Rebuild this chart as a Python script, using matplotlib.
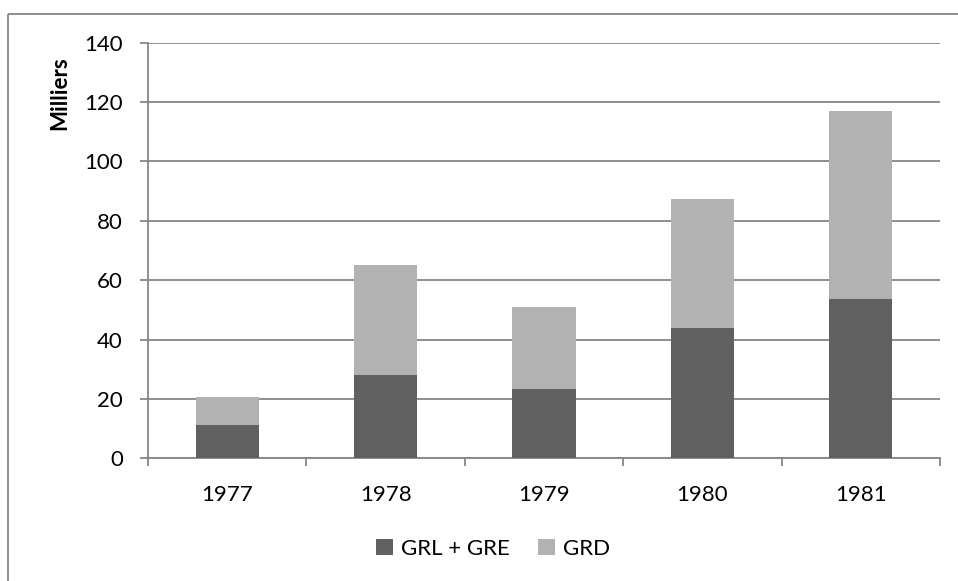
import matplotlib
matplotlib.use("Agg")
import matplotlib.pyplot as plt
from matplotlib.patches import Rectangle
import numpy as np

years = ["1977", "1978", "1979", "1980", "1981"]
grl_gre = [11.1, 28.1, 23.4, 44.0, 53.5]
grd = [9.4, 36.9, 27.4, 43.5, 63.4]

plt.rcParams['font.family'] = ['Lato', 'DejaVu Sans']
fs = 16

W, H = 958, 581
fig = plt.figure(figsize=(W / 100, H / 100), dpi=100)

# bordure du graphique (style Excel)
fig.patches.append(Rectangle((8 / W, 1 - 14 / H), 2, -2, transform=fig.transFigure,
                             fill=False, edgecolor='#868686', linewidth=1.3))

left, right, top, bottom = 148, 940, 42.7, 458.3
ax = fig.add_axes([left / W, 1 - bottom / H, (right - left) / W, (bottom - top) / H])

x = np.arange(len(years))
dark = '#606060'
light = '#b2b2b2'
ax.bar(x, grl_gre, width=0.4, color=dark, label='GRL + GRE', zorder=3)
ax.bar(x, grd, width=0.4, bottom=grl_gre, color=light, label='GRD', zorder=3)

ax.set_xlim(-0.5, 4.5)
ax.set_ylim(0, 140)
ax.set_yticks(range(0, 141, 20))
ax.yaxis.grid(True, color='#868686', linewidth=1.3, zorder=0)

for s in ['top', 'right']:
    ax.spines[s].set_visible(False)
for s in ['left', 'bottom']:
    ax.spines[s].set_color('#868686')
    ax.spines[s].set_linewidth(1.3)

ax.set_xticks(x)
ax.set_xticklabels(years)
ax.set_xticks(np.arange(-0.5, 5, 1), minor=True)
ax.tick_params(axis='x', which='major', length=0, pad=19, labelsize=fs)
ax.tick_params(axis='x', which='minor', length=6, width=1.3, color='#868686')
ax.tick_params(axis='y', length=6, width=1.3, color='#868686', pad=12, labelsize=fs)

fig.text(60 / W, 1 - 93 / H, 'Milliers', rotation=90, ha='center', va='center',
         fontsize=fs, fontweight='bold')

ax.legend(loc='center', bbox_to_anchor=(493 / W, 1 - 549 / H), bbox_transform=fig.transFigure,
          ncol=2, frameon=False, fontsize=fs, handlelength=0.75, handleheight=0.75,
          handletextpad=0.35, columnspacing=1.3)

fig.savefig('out.png', dpi=100)
